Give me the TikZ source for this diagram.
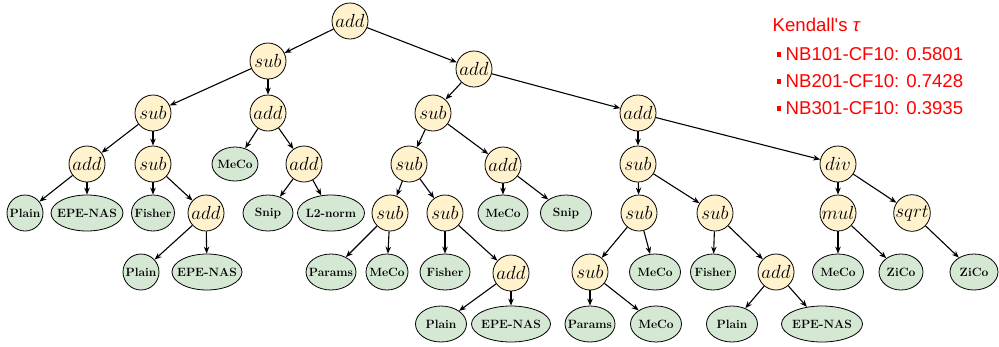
\RequirePackage{fix-cm}
\documentclass[tikz,border=0pt]{standalone}
\usepackage{fontspec}
\newfontfamily\arialf{Liberation Sans}
\usetikzlibrary{shapes.geometric,arrows.meta}
\definecolor{opfill}{HTML}{FFF2CC}
\definecolor{leaffill}{HTML}{D5E8D4}
\definecolor{kred}{HTML}{FF0000}
\tikzset{
  opnode/.style={circle, draw=black, line width=0.8pt, fill=opfill, minimum size=36pt, inner sep=0pt, font=\fontsize{19}{22}\selectfont},
  leaf/.style={ellipse, draw=black, line width=0.8pt, fill=leaffill, minimum height=36pt, inner sep=0pt, font=\fontsize{12}{14}\selectfont\bfseries},
  arr/.style={line width=1.1pt, -{Stealth[length=7pt,width=5.5pt]}},
  ktext/.style={anchor=base west, inner sep=0pt, text=kred, font=\arialf\fontsize{18.6}{22}\selectfont}
}
\newcommand{\kbul}{\raise3.7pt\hbox{\rule{4.5pt}{5pt}}\hspace{4.5pt}}
\newcommand{\lf}[1]{\makebox[0pt]{#1}}
\begin{document}
\begin{tikzpicture}[x=1pt,y=-1pt]
\useasboundingbox (0,0) rectangle (999,346);
% level 0
\node[opnode] (r) at (350,21) {$add$};
% level 1
\node[opnode] (s1) at (268,61) {$sub$};
\node[opnode] (a1) at (474,69) {$add$};
% level 2
\node[opnode] (s2a) at (153,113) {$sub$};
\node[opnode] (a2a) at (268,113) {$add$};
\node[opnode] (s2b) at (433,113) {$sub$};
\node[opnode] (a2b) at (638,113) {$add$};
% level 3
\node[opnode] (a3a) at (87,164) {$add$};
\node[opnode] (s3a) at (153,164) {$sub$};
\node[leaf, minimum width=46pt, minimum height=34pt] (m3) at (235,164) {\lf{MeCo}};
\node[opnode] (a3b) at (304,164) {$add$};
\node[opnode] (s3b) at (409,164) {$sub$};
\node[opnode] (a3c) at (503,165) {$add$};
\node[opnode] (s3c) at (638,164) {$sub$};
\node[opnode] (d3) at (838,164) {$div$};
% level 4
\node[leaf, minimum width=36pt] (p4) at (25,213) {\lf{Plain}};
\node[leaf, minimum width=72pt] (e4) at (87,213) {\lf{EPE-NAS}};
\node[leaf, minimum width=43pt] (f4) at (153,213) {\lf{Fisher}};
\node[opnode] (a4a) at (206,213) {$add$};
\node[leaf, minimum width=50pt] (sn4) at (268,213) {\lf{Snip}};
\node[leaf, minimum width=67pt] (l4) at (331,213) {\lf{L2-norm}};
\node[opnode] (s4a) at (390,213) {$sub$};
\node[opnode] (s4b) at (445,213) {$sub$};
\node[leaf, minimum width=50pt] (m4) at (503,213) {\lf{MeCo}};
\node[leaf, minimum width=51pt] (sn4b) at (566,213) {\lf{Snip}};
\node[opnode] (s4c) at (639,213) {$sub$};
\node[opnode] (s4d) at (715,213) {$sub$};
\node[opnode] (mu4) at (838,213) {$mul$};
\node[opnode] (sq4) at (912,213) {$sqrt$};
% level 5
\node[leaf, minimum width=36pt] (p5) at (141,272) {\lf{Plain}};
\node[leaf, minimum width=70pt] (e5) at (207,272) {\lf{EPE-NAS}};
\node[leaf, minimum width=50pt] (pa5) at (331,272) {\lf{Params}};
\node[leaf, minimum width=42pt] (m5a) at (387,272) {\lf{MeCo}};
\node[leaf, minimum width=50pt] (f5a) at (445,272) {\lf{Fisher}};
\node[opnode] (a5a) at (511,273) {$add$};
\node[opnode] (s5) at (590,272) {$sub$};
\node[leaf, minimum width=51pt] (m5b) at (655,272) {\lf{MeCo}};
\node[leaf, minimum width=45pt] (f5b) at (713,272) {\lf{Fisher}};
\node[opnode] (a5b) at (776,272) {$add$};
\node[leaf, minimum width=51pt] (m5c) at (838,272) {\lf{MeCo}};
\node[leaf, minimum width=44pt] (z5a) at (901,272) {\lf{ZiCo}};
\node[leaf, minimum width=48pt] (z5b) at (974,272) {\lf{ZiCo}};
% level 6
\node[leaf, minimum width=51pt] (p6a) at (441,324) {\lf{Plain}};
\node[leaf, minimum width=79pt] (e6a) at (511,324) {\lf{EPE-NAS}};
\node[leaf, minimum width=50pt] (pa6) at (590,324) {\lf{Params}};
\node[leaf, minimum width=51pt] (m6) at (656,324) {\lf{MeCo}};
\node[leaf, minimum width=51pt] (p6b) at (732,324) {\lf{Plain}};
\node[leaf, minimum width=81pt] (e6b) at (822,324) {\lf{EPE-NAS}};
% edges
\draw[arr] (r) -- (s1);
\draw[arr] (r) -- (a1);
\draw[arr] (s1) -- (s2a);
\draw[arr] (s1) -- (a2a);
\draw[arr] (a1) -- (s2b);
\draw[arr] (a1) -- (a2b);
\draw[arr] (s2a) -- (a3a);
\draw[arr] (s2a) -- (s3a);
\draw[arr] (a2a) -- (m3);
\draw[arr] (a2a) -- (a3b);
\draw[arr] (s2b) -- (s3b);
\draw[arr] (s2b) -- (a3c);
\draw[arr] (a2b) -- (s3c);
\draw[arr] (a2b) -- (d3);
\draw[arr] (a3a) -- (p4);
\draw[arr] (a3a) -- (e4);
\draw[arr] (s3a) -- (f4);
\draw[arr] (s3a) -- (a4a);
\draw[arr] (a3b) -- (sn4);
\draw[arr] (a3b) -- (l4);
\draw[arr] (s3b) -- (s4a);
\draw[arr] (s3b) -- (s4b);
\draw[arr] (a3c) -- (m4);
\draw[arr] (a3c) -- (sn4b);
\draw[arr] (s3c) -- (s4c);
\draw[arr] (s3c) -- (s4d);
\draw[arr] (d3) -- (mu4);
\draw[arr] (d3) -- (sq4);
\draw[arr] (a4a) -- (p5);
\draw[arr] (a4a) -- (e5);
\draw[arr] (s4a) -- (pa5);
\draw[arr] (s4a) -- (m5a);
\draw[arr] (s4b) -- (f5a);
\draw[arr] (s4b) -- (a5a);
\draw[arr] (s4c) -- (s5);
\draw[arr] (s4c) -- (m5b);
\draw[arr] (s4d) -- (f5b);
\draw[arr] (s4d) -- (a5b);
\draw[arr] (mu4) -- (m5c);
\draw[arr] (mu4) -- (z5a);
\draw[arr] (sq4) -- (z5b);
\draw[arr] (a5a) -- (p6a);
\draw[arr] (a5a) -- (e6a);
\draw[arr] (s5) -- (pa6);
\draw[arr] (s5) -- (m6);
\draw[arr] (a5b) -- (p6b);
\draw[arr] (a5b) -- (e6b);
% legend
\node[ktext] (kt) at (772.5,31.7) {Kendall's \textit{τ}};
\node[ktext] (k1) at (776.5,60.7) {\kbul NB101-CF10: 0.5801};
\node[ktext] (k2) at (776.5,87.7) {\kbul NB201-CF10: 0.7428};
\node[ktext] (k3) at (776.5,114.5) {\kbul NB301-CF10: 0.3935};
\end{tikzpicture}
\end{document}
